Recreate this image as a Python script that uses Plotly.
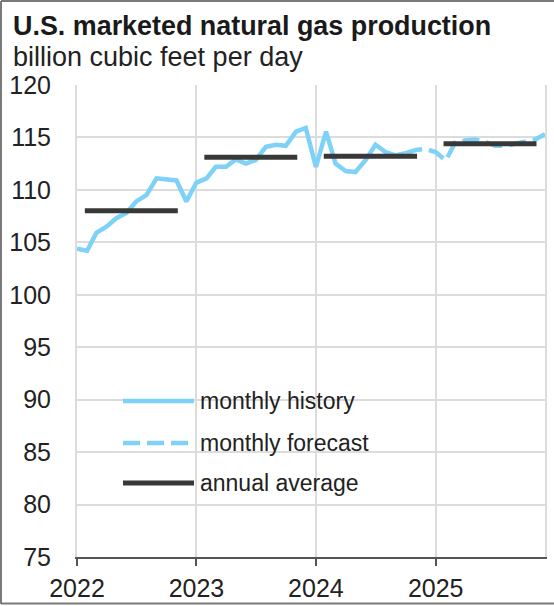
import pandas as pd
import plotly.graph_objects as go

# Monthly U.S. marketed natural gas production, Bcf/d (Jan 2022 - Dec 2025)
history_values = [
    104.4, 104.2, 105.9, 106.5, 107.3, 107.8, 108.9, 109.5, 111.1, 111.0, 110.9, 108.9,  # 2022
    110.7, 111.1, 112.2, 112.2, 112.9, 112.5, 112.85, 114.1, 114.3, 114.2, 115.55, 115.9,  # 2023
    112.2, 115.55, 112.5, 111.8, 111.7, 112.85, 114.3, 113.6, 113.3, 113.5,  # 2024 Jan-Oct
]
forecast_values = [
    113.5, 113.8, 113.9,  # 2024 Oct-Dec
    113.6, 112.8, 114.5, 114.7, 114.8, 114.6, 114.2, 114.2, 114.4, 114.5, 114.8, 115.3,  # 2025
]
annual_years = [2022, 2023, 2024, 2025]
annual_average = [108.0, 113.1, 113.2, 114.4]
year_ticks = ["2022", "2023", "2024", "2025"]

months = pd.date_range("2022-01-01", "2025-12-01", freq="MS")
hist_x = months[: len(history_values)]
fc_x = months[len(history_values) - 1:]

BLUE = "#7ED2F8"
GRAY = "#383838"
GRID = "#DCDCDC"
FONT = "Liberation Sans, Arial, sans-serif"

W, H = 554, 606
ML, MR, MT, MB = 77, 9, 85, 49
PW, PH = W - ML - MR, H - MT - MB


def px_x(px):
    return (px - ML) / PW


def px_y(py):
    return (H - MB - py) / PH


fig = go.Figure()

fig.add_trace(go.Scatter(x=hist_x, y=history_values, mode="lines",
                         line=dict(color=BLUE, width=4.5), showlegend=False))
fig.add_trace(go.Scatter(x=fc_x, y=forecast_values, mode="lines",
                         line=dict(color=BLUE, width=4.5, dash="17px,7px"), showlegend=False))

for yr, avg in zip(annual_years, annual_average):
    fig.add_trace(go.Scatter(x=[f"{yr}-01-25", f"{yr}-11-05"], y=[avg, avg], mode="lines",
                             line=dict(color=GRAY, width=5), showlegend=False))

# Legend drawn in place, inside the plot area
legend_items = [
    ("monthly history", BLUE, "solid", 401),
    ("monthly forecast", BLUE, "17px,7px", 443),
    ("annual average", GRAY, "solid", 483),
]
shapes = []
annotations = []
for label, color, dash, py in legend_items:
    shapes.append(dict(type="line", xref="paper", yref="paper",
                       x0=px_x(123), x1=px_x(194), y0=px_y(py), y1=px_y(py),
                       line=dict(color=color, width=4.5 if color == BLUE else 5, dash=dash)))
    annotations.append(dict(text=label, xref="paper", yref="paper", x=px_x(198), y=px_y(py),
                            xanchor="left", yanchor="middle", showarrow=False,
                            font=dict(family=FONT, size=23, color="#222222")))

# Outer frame (left, top, bottom)
frame = dict(color="#7A7A7A", width=2)
shapes += [
    dict(type="line", xref="paper", yref="paper", x0=px_x(1), x1=px_x(1), y0=px_y(1), y1=px_y(604), line=frame),
    dict(type="line", xref="paper", yref="paper", x0=px_x(1), x1=px_x(W), y0=px_y(1), y1=px_y(1), line=frame),
    dict(type="line", xref="paper", yref="paper", x0=px_x(1), x1=px_x(W), y0=px_y(603.5), y1=px_y(603.5), line=frame),
]

annotations += [
    dict(text="<b>U.S. marketed natural gas production</b>", xref="paper", yref="paper",
         x=px_x(11), y=px_y(9), xanchor="left", yanchor="top", showarrow=False,
         font=dict(family=FONT, size=26.9, color="#1A1A1A")),
    dict(text="billion cubic feet per day", xref="paper", yref="paper",
         x=px_x(11), y=px_y(40), xanchor="left", yanchor="top", showarrow=False,
         font=dict(family=FONT, size=27, color="#222222")),
]

fig.update_layout(
    width=W, height=H,
    margin=dict(l=ML, r=MR, t=MT, b=MB, pad=0, autoexpand=False),
    paper_bgcolor="white", plot_bgcolor="white",
    shapes=shapes, annotations=annotations,
    showlegend=False,
)

fig.update_xaxes(
    range=[months[0], months[-1]],
    tickvals=[f"{y}-01-01" for y in year_ticks], ticktext=year_ticks,
    showgrid=True, gridcolor=GRID, gridwidth=2,
    showline=True, linecolor="#555555", linewidth=2,
    ticks="outside", ticklen=7, tickwidth=2, tickcolor="#555555",
    ticklabelstandoff=1, automargin=False,
    tickfont=dict(family=FONT, size=25, color="#222222"),
    zeroline=False,
)
fig.update_yaxes(
    range=[75, 120], dtick=5, tick0=75,
    showgrid=True, gridcolor=GRID, gridwidth=2,
    showline=True, linecolor=GRID, linewidth=2, mirror=True,
    ticks="", ticklabelstandoff=19, automargin=False,
    tickfont=dict(family=FONT, size=25, color="#222222"),
    zeroline=False,
)

fig.write_html("out.html")
